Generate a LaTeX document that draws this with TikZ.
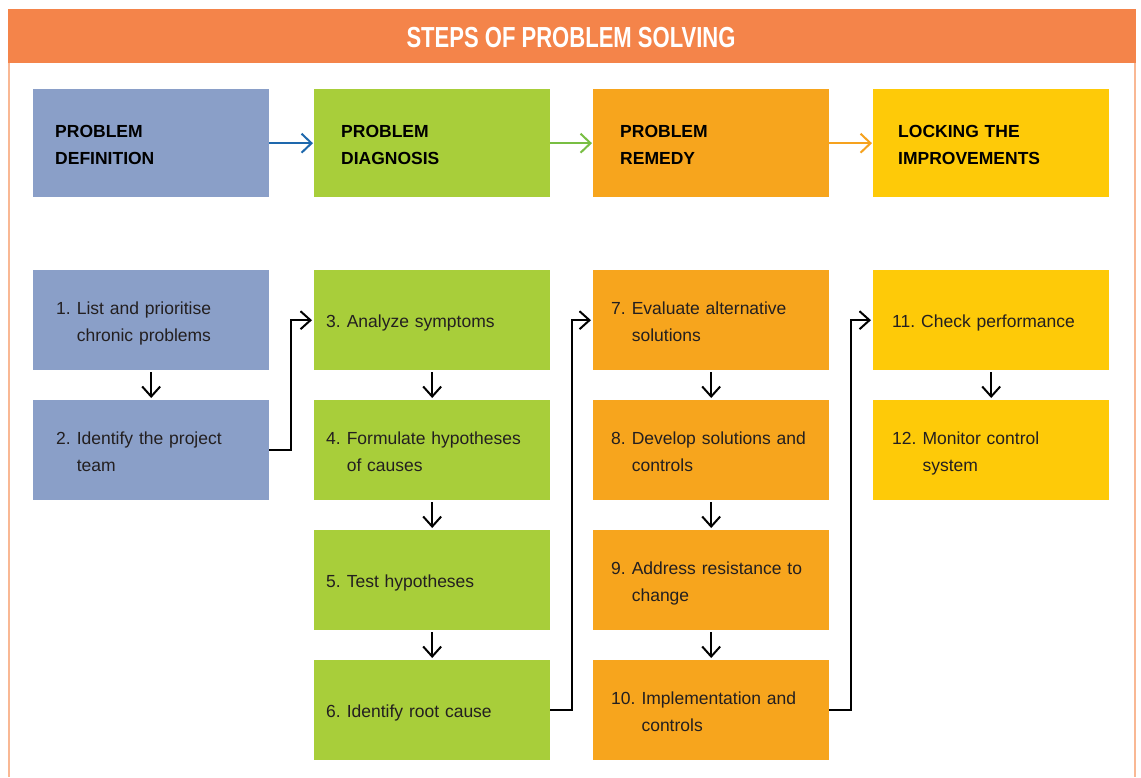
\documentclass[tikz,border=0pt]{standalone}
\usepackage{fontspec}
\setmainfont{Liberation Sans}
\newfontfamily\titlefont{Liberation Sans}[FakeStretch=0.76]
\usetikzlibrary{arrows.meta}

\definecolor{hdr}{HTML}{F4844A}
\definecolor{frameclr}{HTML}{F9B894}
\definecolor{defclr}{HTML}{8A9FC8}
\definecolor{diagclr}{HTML}{A8CE3A}
\definecolor{remclr}{HTML}{F7A51D}
\definecolor{lockclr}{HTML}{FECA08}
\definecolor{arrblue}{HTML}{1E68AD}
\definecolor{arrgreen}{HTML}{78BE43}
\definecolor{arrorange}{HTML}{F6A21E}
\definecolor{ink}{HTML}{231F20}

% numbered step text with a hanging indent, set a little below the box centre
\newcommand\numstep[2]{\raisebox{-2pt}[\height][\depth]{%
  \begin{tabular}{@{}l@{\hspace{6pt}}l@{}}#1&#2\end{tabular}}}
% two-line phase title, lowered in the same way
\newcommand\phasetext[2]{\raisebox{-2pt}[\height][\depth]{%
  \begin{tabular}{@{}l@{}}#1\\#2\end{tabular}}}

\tikzset{
  phasebox/.style={rectangle, anchor=north west, minimum width=236pt, minimum height=108pt,
    inner ysep=0pt, align=left, text=black,
    font=\fontsize{17.5}{27}\selectfont\bfseries},
  stepbox/.style={rectangle, anchor=north west, minimum width=236pt, minimum height=100pt,
    inner ysep=0pt, align=left, text=ink,
    font=\fontsize{17.5}{27}\selectfont},
  phasearrow/.style={line width=2pt, -{Straight Barb[length=10pt,width=19pt]}, shorten >=1pt},
  steparrow/.style={line width=2pt, black, -{Straight Barb[length=10pt,width=18pt]},
    shorten >=2pt},
}

\begin{document}
\begin{tikzpicture}[x=1pt,y=-1pt]
  \useasboundingbox (0,0) rectangle (1141,777);
  \fill[white] (0,0) rectangle (1141,777);

  % frame and title band
  \draw[frameclr, line width=2pt] (9,60) -- (9,777);
  \draw[frameclr, line width=2pt] (1135,60) -- (1135,777);
  \node[rectangle, fill=hdr, minimum width=1128pt, minimum height=54pt, inner sep=0pt]
    (band) at (572,36) {};
  \node[text=white, inner sep=0pt, font=\titlefont\fontsize{29}{29}\selectfont\bfseries]
    (title) at (571,38) {STEPS OF PROBLEM SOLVING};

  % phases
  \node[phasebox, fill=defclr, inner xsep=22pt, text width=192pt] (pd) at (33,89)
    {\phasetext{PROBLEM}{DEFINITION}};
  \node[phasebox, fill=diagclr, inner xsep=27pt, text width=182pt] (pdg) at (314,89)
    {\phasetext{PROBLEM}{DIAGNOSIS}};
  \node[phasebox, fill=remclr, inner xsep=27pt, text width=182pt] (pr) at (593,89)
    {\phasetext{PROBLEM}{REMEDY}};
  \node[phasebox, fill=lockclr, inner xsep=25pt, text width=186pt] (lock) at (873,89)
    {\phasetext{LOCKING THE}{IMPROVEMENTS}};

  \draw[phasearrow, arrblue] (pd.east) -- (pdg.west);
  \draw[phasearrow, arrgreen] (pdg.east) -- (pr.west);
  \draw[phasearrow, arrorange] (pr.east) -- (lock.west);

  % steps: problem definition
  \node[stepbox, fill=defclr, inner xsep=23pt, text width=190pt] (s1) at (33,270)
    {\numstep{1.}{List and prioritise\\&chronic problems}};
  \node[stepbox, fill=defclr, inner xsep=23pt, text width=190pt] (s2) at (33,400)
    {\numstep{2.}{Identify the project\\&team}};

  % steps: problem diagnosis
  \node[stepbox, fill=diagclr, inner xsep=12pt, text width=212pt] (s3) at (314,270)
    {\numstep{3.}{Analyze symptoms}};
  \node[stepbox, fill=diagclr, inner xsep=12pt, text width=212pt] (s4) at (314,400)
    {\numstep{4.}{Formulate hypotheses\\&of causes}};
  \node[stepbox, fill=diagclr, inner xsep=12pt, text width=212pt] (s5) at (314,530)
    {\numstep{5.}{Test hypotheses}};
  \node[stepbox, fill=diagclr, inner xsep=12pt, text width=212pt] (s6) at (314,660)
    {\numstep{6.}{Identify root cause}};

  % steps: problem remedy
  \node[stepbox, fill=remclr, inner xsep=18pt, text width=200pt] (s7) at (593,270)
    {\numstep{7.}{Evaluate alternative\\&solutions}};
  \node[stepbox, fill=remclr, inner xsep=18pt, text width=200pt] (s8) at (593,400)
    {\numstep{8.}{Develop solutions and\\&controls}};
  \node[stepbox, fill=remclr, inner xsep=18pt, text width=200pt] (s9) at (593,530)
    {\numstep{9.}{Address resistance to\\&change}};
  \node[stepbox, fill=remclr, inner xsep=18pt, text width=200pt] (s10) at (593,660)
    {\numstep{10.}{Implementation and\\&controls}};

  % steps: locking the improvements
  \node[stepbox, fill=lockclr, inner xsep=19pt, text width=198pt] (s11) at (873,270)
    {\numstep{11.}{Check performance}};
  \node[stepbox, fill=lockclr, inner xsep=19pt, text width=198pt] (s12) at (873,400)
    {\numstep{12.}{Monitor control\\&system}};

  % connectors between steps
  \draw[steparrow, shorten <=2pt] (s1.south) -- (s2.north);
  \draw[steparrow] (s2.east) -- ++(22,0) |- (s3.west);
  \draw[steparrow, shorten <=2pt] (s3.south) -- (s4.north);
  \draw[steparrow, shorten <=2pt] (s4.south) -- (s5.north);
  \draw[steparrow, shorten <=2pt] (s5.south) -- (s6.north);
  \draw[steparrow] (s6.east) -- ++(22,0) |- (s7.west);
  \draw[steparrow, shorten <=2pt] (s7.south) -- (s8.north);
  \draw[steparrow, shorten <=2pt] (s8.south) -- (s9.north);
  \draw[steparrow, shorten <=2pt] (s9.south) -- (s10.north);
  \draw[steparrow] (s10.east) -- ++(22,0) |- (s11.west);
  \draw[steparrow, shorten <=2pt] (s11.south) -- (s12.north);
\end{tikzpicture}
\end{document}
